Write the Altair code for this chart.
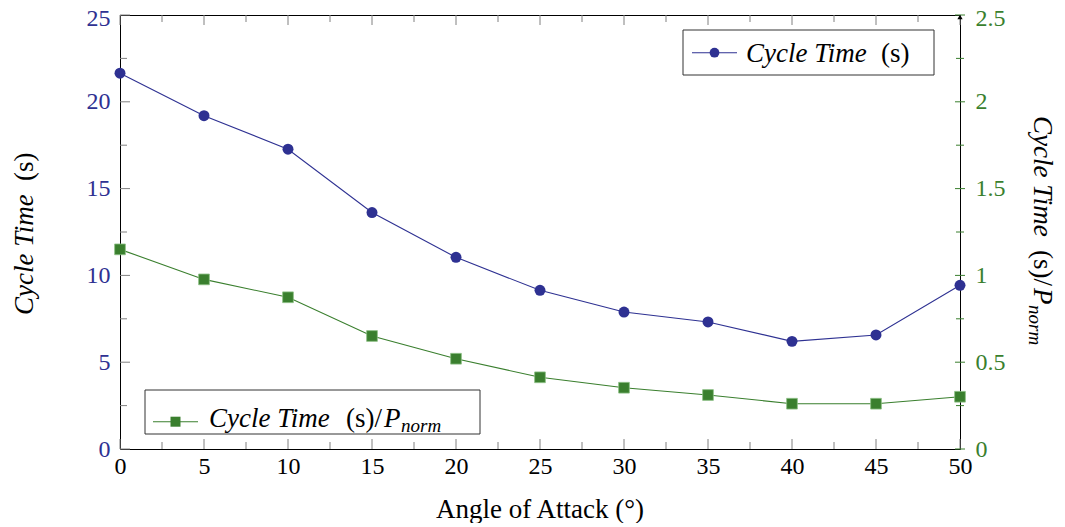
import altair as alt
import pandas as pd

# ---------------- data ----------------
angles = [0, 5, 10, 15, 20, 25, 30, 35, 40, 45, 50]
cycle_time = [21.65, 19.2, 17.27, 13.62, 11.04, 9.14, 7.89, 7.32, 6.2, 6.57, 9.43]
cycle_norm = [1.150, 0.977, 0.874, 0.651, 0.520, 0.413, 0.353, 0.311, 0.261, 0.261, 0.301]

x_major = [0, 5, 10, 15, 20, 25, 30, 35, 40, 45, 50]
x_minor = [2.5, 7.5, 12.5, 17.5, 22.5, 27.5, 32.5, 37.5, 42.5, 47.5]
left_major = [0, 5, 10, 15, 20, 25]
left_minor = [2.5, 7.5, 12.5, 17.5, 22.5]
right_major = [0, 0.5, 1, 1.5, 2, 2.5]
right_minor = [0.25, 0.75, 1.25, 1.75, 2.25]

BLUE = "#2E3192"
GREEN = "#3A7F2E"
GRAY = "#808080"
FONT = "Liberation Serif"
FS = 24
TS = 27
SUB = 19
W, H = 840, 434

df = pd.DataFrame({"angle": angles, "cycle": cycle_time, "norm": cycle_norm})

# ---------------- scales / axes ----------------
xs = alt.Scale(domain=[0, 50], nice=False, zero=False)
x_axis = alt.Axis(values=x_major, title=None, ticks=False, domain=False, grid=False,
                  labelFont=FONT, labelFontSize=FS, labelColor="black",
                  labelPadding=5, labelFlush=False)
X = alt.X("angle:Q", scale=xs, axis=x_axis)

ls = alt.Scale(domain=[0, 25], nice=False, zero=False)
l_axis = alt.Axis(values=left_major, title=None, ticks=False, domain=False, grid=False,
                  orient="left", labelFont=FONT, labelFontSize=FS, labelColor=BLUE,
                  labelPadding=10, labelFlush=False,
                  labelOffset={"condition": {"test": "datum.value >= 25", "value": 3}, "value": 0})
YB = alt.Y("cycle:Q", scale=ls, axis=l_axis)

rs = alt.Scale(domain=[0, 2.5], nice=False, zero=False)
r_axis = alt.Axis(values=right_major, title=None, ticks=False, domain=False, grid=False,
                  orient="right", labelFont=FONT, labelFontSize=FS, labelColor=GREEN,
                  labelPadding=15, labelFlush=False, labelExpr="'' + datum.value",
                  labelOffset={"condition": {"test": "datum.value >= 2.5", "value": 3}, "value": 0})
YG = alt.Y("norm:Q", scale=rs, axis=r_axis)

# ---------------- tick marks (inward, pgfplots style) ----------------
def xticks(vals, y0, y1, color):
    return alt.Chart(pd.DataFrame({"angle": vals})).mark_rule(color=color, strokeWidth=1).encode(
        x=X, y=alt.value(y0), y2=alt.value(y1))

xt = [
    xticks(x_major, H, H - 10, GRAY), xticks(x_minor, H, H - 7, GRAY),
    xticks(x_major, 0, 10, GRAY), xticks(x_minor, 0, 7, GRAY),
]

lt_major = alt.Chart(pd.DataFrame({"cycle": left_major})).mark_rule(color=GRAY, strokeWidth=1).encode(
    y=YB, x=alt.value(0), x2=alt.value(10))
lt_minor = alt.Chart(pd.DataFrame({"cycle": left_minor})).mark_rule(color=GRAY, strokeWidth=1).encode(
    y=YB, x=alt.value(0), x2=alt.value(7))

rt_major = alt.Chart(pd.DataFrame({"norm": right_major})).mark_rule(color=GREEN, strokeWidth=1).encode(
    y=YG, x=alt.value(W - 5), x2=alt.value(W + 5))
rt_minor = alt.Chart(pd.DataFrame({"norm": right_minor})).mark_rule(color=GREEN, strokeWidth=1).encode(
    y=YG, x=alt.value(W - 4), x2=alt.value(W + 4))

# ---------------- series ----------------
base = alt.Chart(df)
blue_line = base.mark_line(color=BLUE, strokeWidth=1.1).encode(x=X, y=YB)
blue_pts = base.mark_point(shape="circle", filled=True, size=120, color=BLUE, opacity=1).encode(x=X, y=YB)
green_line = base.mark_line(color=GREEN, strokeWidth=1.1).encode(x=X, y=YG)
green_pts = base.mark_square(size=115, color=GREEN, opacity=1, stroke="#8cbf84",
                             strokeWidth=0.8).encode(x=X, y=YG)

blue_group = alt.layer(lt_major, lt_minor, blue_line, blue_pts)
green_group = alt.layer(rt_major, rt_minor, green_line, green_pts)

# ---------------- annotations (legends, titles) ----------------
one = pd.DataFrame({"k": [0]})


def txt(s, x, y, italic=False, size=TS, angle=0, align="left", color="black"):
    kw = dict(text=s, font=FONT, fontSize=size, align=align, baseline="alphabetic", color=color)
    if italic:
        kw["fontStyle"] = "italic"
    if angle:
        kw["angle"] = angle
    return alt.Chart(one).mark_text(**kw).encode(x=alt.value(x), y=alt.value(y))


def box(x0, x1, y0, y1):
    return alt.Chart(one).mark_rect(fill="white", stroke="#333333", strokeWidth=1).encode(
        x=alt.value(x0), x2=alt.value(x1), y=alt.value(y0), y2=alt.value(y1))


def seg(x0, x1, y, color):
    return alt.Chart(one).mark_rule(color=color, strokeWidth=1.1).encode(
        x=alt.value(x0), x2=alt.value(x1), y=alt.value(y))


def sym(shape, x, y, color, size):
    return alt.Chart(one).mark_point(shape=shape, filled=True, opacity=1, color=color, size=size).encode(
        x=alt.value(x), y=alt.value(y))


legend_top = [
    box(563, 814, 15, 60),
    seg(572, 617, 37.7, BLUE),
    sym("circle", 594.5, 37.7, BLUE, 95),
    txt("Cycle Time", 626, 46.5, italic=True),
    txt("(s)", 761, 46.5),
]

legend_bot = [
    box(25, 360, 375, 419),
    seg(33, 78, 406.7, GREEN),
    sym("square", 55.5, 406.7, GREEN, 100),
    txt("Cycle Time", 89, 412, italic=True),
    txt("(s)/", 226, 412),
    txt("P", 264, 412, italic=True),
    txt("norm", 281, 417, italic=True, size=SUB),
]

titles = [
    txt("Cycle Time", -87, 300, italic=True, angle=270),
    txt("(s)", -87, 166, angle=270),
    txt("Cycle Time", 914, 101, italic=True, angle=90),
    txt("(s)/", 914, 235, angle=90),
    txt("P", 914, 273, italic=True, angle=90),
    txt("norm", 909, 290, italic=True, size=SUB, angle=90),
    txt("Angle of Attack (°)", 420, 503, align="center"),
]

arrow = alt.Chart(one).mark_point(shape="triangle-up", filled=True, opacity=1, color="black", size=28).encode(
    x=alt.value(W), y=alt.value(2))

chart = alt.layer(
    *xt, blue_group, green_group, arrow, *legend_top, *legend_bot, *titles
).resolve_scale(y="independent").properties(
    width=W, height=H,
    autosize=alt.AutoSizeParams(type="none"),
    padding={"left": 112, "top": 7, "right": 97, "bottom": 74},
).configure_view(stroke="black", strokeWidth=1)

chart.save("out.html", embed_options={"renderer": "svg", "actions": False})
